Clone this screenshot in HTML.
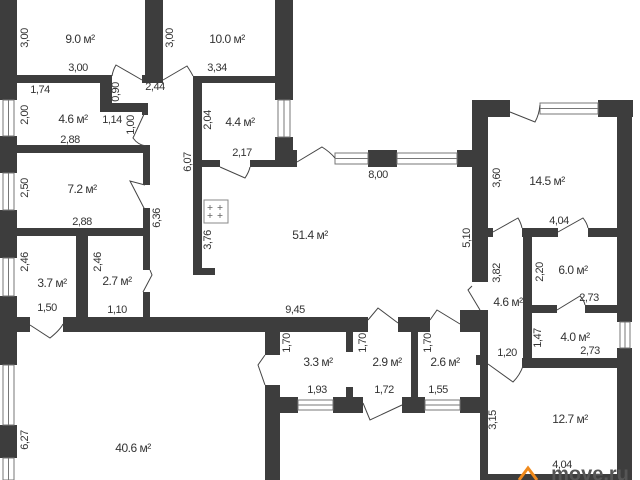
<!DOCTYPE html>
<html><head><meta charset="utf-8"><style>
html,body{margin:0;padding:0;background:#fff;}
svg{display:block;}
text{font-family:"Liberation Sans Narrow","Liberation Sans",sans-serif;font-size:11px;fill:#333;text-anchor:middle;dominant-baseline:middle;letter-spacing:-0.5px;}
.a{font-size:12px;}
</style></head><body>
<svg width="640" height="480" viewBox="0 0 640 480" xmlns="http://www.w3.org/2000/svg">
<g fill="#3d3d3d">
<rect x="0" y="0" width="17" height="100"/>
<rect x="0" y="136" width="17" height="37"/>
<rect x="0" y="210" width="17" height="48"/>
<rect x="0" y="296" width="17" height="69"/>
<rect x="0" y="425" width="17" height="33"/>
<rect x="145" y="0" width="18" height="83"/>
<rect x="17" y="75" width="95" height="8"/>
<rect x="142" y="75" width="21" height="8"/>
<rect x="100" y="75" width="12" height="37"/>
<rect x="100" y="103" width="48" height="9"/>
<rect x="142" y="103" width="6" height="12"/>
<rect x="17" y="145" width="133" height="8"/>
<rect x="143" y="145" width="7" height="40"/>
<rect x="143" y="208" width="7" height="28"/>
<rect x="17" y="228" width="133" height="8"/>
<rect x="76" y="236" width="12" height="82"/>
<rect x="143" y="236" width="7" height="34"/>
<rect x="143" y="292" width="7" height="26"/>
<rect x="193" y="76" width="84" height="7"/>
<rect x="193" y="76" width="9" height="199"/>
<rect x="193" y="268" width="22" height="7"/>
<rect x="275" y="0" width="18" height="100"/>
<rect x="275" y="137" width="18" height="18"/>
<rect x="275" y="150" width="22" height="17"/>
<rect x="202" y="160" width="18" height="7"/>
<rect x="250" y="160" width="47" height="7"/>
<rect x="368" y="150" width="29" height="17"/>
<rect x="457" y="150" width="31" height="17"/>
<rect x="472" y="100" width="38" height="17"/>
<rect x="598" y="100" width="35" height="17"/>
<rect x="472" y="100" width="16" height="182"/>
<rect x="617" y="100" width="15" height="222"/>
<rect x="617" y="348" width="15" height="132"/>
<rect x="488" y="228" width="5" height="9"/>
<rect x="522" y="228" width="36" height="9"/>
<rect x="588" y="228" width="29" height="9"/>
<rect x="523" y="228" width="9" height="140"/>
<rect x="532" y="305" width="25" height="8"/>
<rect x="585" y="305" width="32" height="8"/>
<rect x="522" y="358" width="95" height="10"/>
<rect x="480" y="310" width="8" height="170"/>
<rect x="476" y="355" width="8" height="10"/>
<rect x="488" y="474" width="130" height="6"/>
<rect x="0" y="317" width="30" height="15"/>
<rect x="63" y="317" width="305" height="15"/>
<rect x="398" y="317" width="32" height="15"/>
<rect x="460" y="310" width="28" height="22"/>
<rect x="265" y="332" width="15" height="23"/>
<rect x="265" y="385" width="15" height="95"/>
<rect x="346" y="332" width="7" height="20"/>
<rect x="280" y="397" width="18" height="16"/>
<rect x="333" y="397" width="30" height="16"/>
<rect x="346" y="387" width="7" height="10"/>
<rect x="411" y="332" width="7" height="65"/>
<rect x="402" y="397" width="23" height="16"/>
<rect x="460" y="397" width="22" height="16"/>
</g>
<g fill="#fff" stroke="#777" stroke-width="1">
<rect x="3" y="100" width="11" height="36"/><line x1="8.5" y1="100" x2="8.5" y2="136"/>
<rect x="3" y="173" width="11" height="37"/><line x1="8.5" y1="173" x2="8.5" y2="210"/>
<rect x="3" y="258" width="11" height="38"/><line x1="8.5" y1="258" x2="8.5" y2="296"/>
<rect x="3" y="365" width="11" height="60"/><line x1="8.5" y1="365" x2="8.5" y2="425"/>
<rect x="3" y="458" width="11" height="22"/><line x1="8.5" y1="458" x2="8.5" y2="480"/>
<rect x="278" y="100" width="12" height="37"/><line x1="284" y1="100" x2="284" y2="137"/>
<rect x="335" y="153" width="33" height="11"/><line x1="335" y1="158.5" x2="368" y2="158.5"/>
<rect x="397" y="153" width="60" height="11"/><line x1="397" y1="158.5" x2="457" y2="158.5"/>
<rect x="540" y="103" width="58" height="11"/><line x1="540" y1="108.5" x2="598" y2="108.5"/>
<rect x="620" y="322" width="10" height="26"/><line x1="625" y1="322" x2="625" y2="348"/>
<rect x="298" y="400" width="35" height="10"/><line x1="298" y1="405" x2="333" y2="405"/>
<rect x="425" y="400" width="35" height="10"/><line x1="425" y1="405" x2="460" y2="405"/>
</g>
<g stroke="#444" stroke-width="1" fill="none">
<path d="M142 80 L116 65 Q113 70 112 76"/>
<path d="M163 80 L187 66 Q191 72 193 76"/>
<path d="M145 112 L133 138 Q138 145 146 146"/>
<path d="M145 185 L130 181 L145 210"/>
<path d="M220 167 L245 178 Q249 172 250 167"/>
<path d="M297 162 L322 147 Q330 152 335 158"/>
<path d="M150 270 L152 275 L143 292"/>
<path d="M30 325 L50 338 Q60 330 63 324"/>
<path d="M510 112 L535 122 Q539 115 540 105"/>
<path d="M493 232 L518 218 Q521 223 522 228"/>
<path d="M558 232 L583 218 Q587 223 588 228"/>
<path d="M557 310 L580 296 Q584 300 585 305"/>
<path d="M472 286 L468 290 L480 310"/>
<path d="M368 320 L378 308 L398 323"/>
<path d="M430 320 L437 310 L460 324"/>
<path d="M265 355 L258 365 L265 385"/>
<path d="M363 403 L370 420 L402 405"/>
<path d="M488 364 L513 382 Q520 375 523 366"/>
</g>
<rect x="204" y="200" width="24" height="23" fill="#fff" stroke="#888"/>
<g fill="none" stroke="#666" stroke-width="0.8">
<path d="M210 205v5M207.5 207.5h5M220 205v5M217.5 207.5h5M210 213v5M207.5 215.5h5M220 213v5M217.5 215.5h5"/>
</g>
<text class="a" x="80" y="40">9.0 м²</text>
<text class="a" x="227" y="40">10.0 м²</text>
<text class="a" x="73" y="120">4.6 м²</text>
<text class="a" x="240" y="123">4.4 м²</text>
<text class="a" x="82" y="190">7.2 м²</text>
<text class="a" x="310" y="236">51.4 м²</text>
<text class="a" x="547" y="182">14.5 м²</text>
<text class="a" x="573" y="271">6.0 м²</text>
<text class="a" x="508" y="303">4.6 м²</text>
<text class="a" x="52" y="284">3.7 м²</text>
<text class="a" x="117" y="282">2.7 м²</text>
<text class="a" x="318" y="363">3.3 м²</text>
<text class="a" x="387" y="363">2.9 м²</text>
<text class="a" x="445" y="363">2.6 м²</text>
<text class="a" x="575" y="338">4.0 м²</text>
<text class="a" x="570" y="420">12.7 м²</text>
<text class="a" x="133" y="449">40.6 м²</text>
<text x="78" y="68">3,00</text>
<text x="217" y="68">3,34</text>
<text x="155" y="87">2,44</text>
<text x="40" y="90">1,74</text>
<text x="112" y="120">1,14</text>
<text x="70" y="140">2,88</text>
<text x="242" y="153">2,17</text>
<text x="82" y="222">2,88</text>
<text x="378" y="175">8,00</text>
<text x="559" y="221">4,04</text>
<text x="589" y="298">2,73</text>
<text x="47" y="308">1,50</text>
<text x="117" y="310">1,10</text>
<text x="295" y="310">9,45</text>
<text x="590" y="351">2,73</text>
<text x="507" y="353">1,20</text>
<text x="317" y="390">1,93</text>
<text x="384" y="390">1,72</text>
<text x="438" y="390">1,55</text>
<text x="562" y="465">4,04</text>
<g>
<text transform="translate(25 38) rotate(-90)">3,00</text>
<text transform="translate(170 38) rotate(-90)">3,00</text>
<text transform="translate(116 92) rotate(-90)">0,90</text>
<text transform="translate(25 115) rotate(-90)">2,00</text>
<text transform="translate(131 125) rotate(-90)">1,00</text>
<text transform="translate(208 120) rotate(-90)">2,04</text>
<text transform="translate(188 162) rotate(-90)">6,07</text>
<text transform="translate(25 188) rotate(-90)">2,50</text>
<text transform="translate(157 218) rotate(-90)">6,36</text>
<text transform="translate(208 240) rotate(-90)">3,76</text>
<text transform="translate(497 178) rotate(-90)">3,60</text>
<text transform="translate(467 238) rotate(-90)">5,10</text>
<text transform="translate(497 273) rotate(-90)">3,82</text>
<text transform="translate(540 272) rotate(-90)">2,20</text>
<text transform="translate(25 262) rotate(-90)">2,46</text>
<text transform="translate(98 262) rotate(-90)">2,46</text>
<text transform="translate(287 343) rotate(-90)">1,70</text>
<text transform="translate(363 343) rotate(-90)">1,70</text>
<text transform="translate(428 343) rotate(-90)">1,70</text>
<text transform="translate(538 338) rotate(-90)">1,47</text>
<text transform="translate(493 420) rotate(-90)">3,15</text>
<text transform="translate(25 440) rotate(-90)">6,27</text>
</g>
<path d="M519 480 L528 468 L537 480" fill="none" stroke="#f08a1c" stroke-width="3"/>
<text x="590" y="475" style="font-size:20px;font-weight:bold;fill:#555;font-family:'Liberation Sans',sans-serif;letter-spacing:0">move.ru</text>
</svg>
</body></html>
